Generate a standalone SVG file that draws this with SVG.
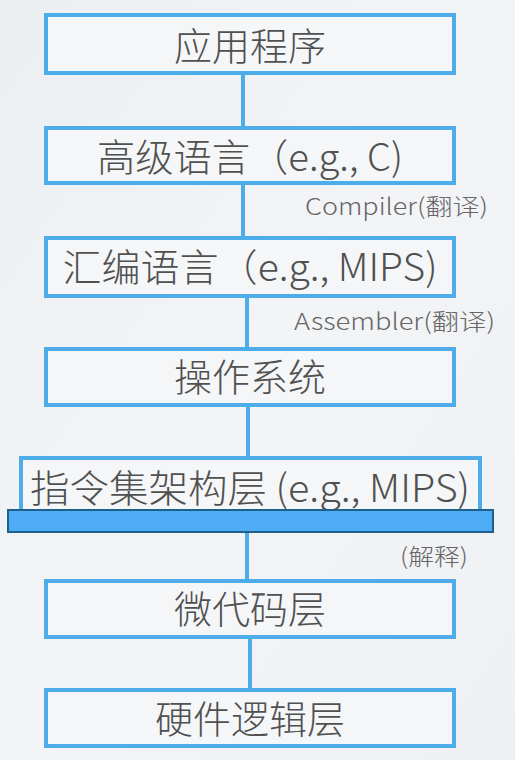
<svg xmlns="http://www.w3.org/2000/svg" width="515" height="760" viewBox="0 0 515 760">
<defs>
<linearGradient id="bg" x1="0" y1="0" x2="1" y2="1">
<stop offset="0" stop-color="#eceff2"/>
<stop offset="0.5" stop-color="#f3f4f6"/>
<stop offset="1" stop-color="#eef0f3"/>
</linearGradient>
</defs>
<style>
.box{fill:#f4f6f8;stroke:#4dade8;stroke-width:4}
.t{font-family:"Noto Sans CJK SC","Noto Sans",sans-serif;font-size:38px;font-weight:300;fill:#505050;text-anchor:middle}
.lbl{font-family:"Noto Sans CJK SC","Noto Sans",sans-serif;font-size:23px;font-weight:300;fill:#666666}
.c{stroke:#4dade8;stroke-width:4;fill:none}
</style>
<rect width="515" height="760" fill="url(#bg)"/>
<g id="connectors">
<line class="c" x1="243" y1="73" x2="243" y2="127"/>
<line class="c" x1="243" y1="183" x2="243" y2="237"/>
<line class="c" x1="247" y1="296" x2="247" y2="348"/>
<line class="c" x1="248" y1="404" x2="248" y2="457"/>
<line class="c" x1="247" y1="532" x2="247" y2="580"/>
<line class="c" x1="250" y1="637" x2="250" y2="689"/>
<text class="lbl" x="305" y="215" textLength="183" lengthAdjust="spacingAndGlyphs">Compiler(翻译)</text>
<text class="lbl" x="294" y="330" textLength="201" lengthAdjust="spacingAndGlyphs">Assembler(翻译)</text>
<text class="lbl" x="400" y="565" textLength="68" lengthAdjust="spacingAndGlyphs">(解释)</text>
</g>
<g id="n1"><rect class="box" x="46" y="15" width="408" height="58"/><text class="t" x="250" y="60">应用程序</text></g>
<g id="n2"><rect class="box" x="46" y="128" width="408" height="55"/><text class="t" x="250" y="171" textLength="306" lengthAdjust="spacingAndGlyphs">高级语言（e.g., C)</text></g>
<g id="n3"><rect class="box" x="46" y="238" width="408" height="58"/><text class="t" x="250" y="281" textLength="375" lengthAdjust="spacingAndGlyphs">汇编语言（e.g., MIPS)</text></g>
<g id="n4"><rect class="box" x="46" y="349" width="408" height="56"/><text class="t" x="250" y="391">操作系统</text></g>
<g id="n5"><rect class="box" x="21" y="458" width="459" height="54"/><text class="t" x="250" y="502" textLength="440" lengthAdjust="spacingAndGlyphs">指令集架构层 (e.g., MIPS)</text></g>
<g id="bar"><rect x="8" y="510" width="485" height="22" fill="#4eacf5" stroke="#1e5f8c" stroke-width="2"/></g>
<g id="n6"><rect class="box" x="46" y="581" width="408" height="56"/><text class="t" x="250" y="623">微代码层</text></g>
<g id="n7"><rect class="box" x="46" y="690" width="408" height="56"/><text class="t" x="250" y="733">硬件逻辑层</text></g>
</svg>
